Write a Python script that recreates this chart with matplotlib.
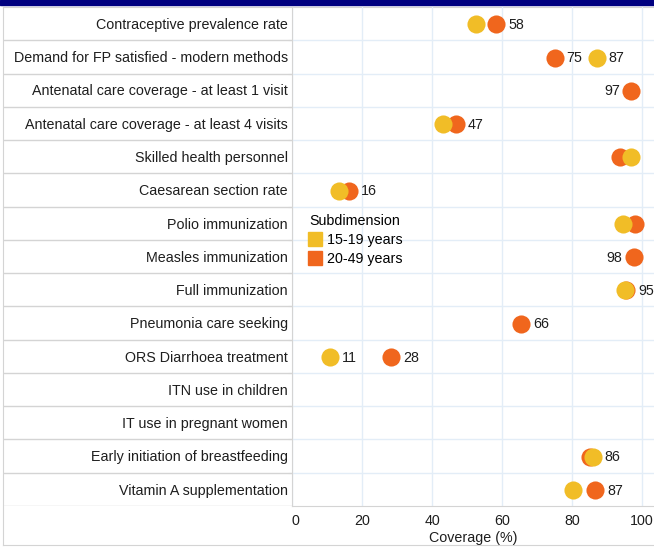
import numpy as np
import matplotlib
matplotlib.use("Agg")
import matplotlib.pyplot as plt
from matplotlib.lines import Line2D
from matplotlib.patches import Rectangle

plt.rcParams['font.family'] = ['Liberation Sans', 'DejaVu Sans']

indicators = [
    "Contraceptive prevalence rate",
    "Demand for FP satisfied - modern methods",
    "Antenatal care coverage - at least 1 visit",
    "Antenatal care coverage - at least 4 visits",
    "Skilled health personnel",
    "Caesarean section rate",
    "Polio immunization",
    "Measles immunization",
    "Full immunization",
    "Pneumonia care seeking",
    "ORS Diarrhoea treatment",
    "ITN use in children",
    "IT use in pregnant women",
    "Early initiation of breastfeeding",
    "Vitamin A supplementation",
]
# nan = no estimate
young = [52.6, 87.1, np.nan, 43.1, 96.7, 13.5, 94.5, np.nan, 95.0, np.nan, 10.9, np.nan, np.nan, 85.9, 80.3]
adult = [58.4, 75.0, 96.9, 46.9, 93.8, 16.4, 97.9, 97.6, 95.5, 65.5, 28.4, np.nan, np.nan, 85.0, 86.6]
young_lab = ["", "87", "", "", "", "", "", "", "", "", "11", "", "", "86", ""]
adult_lab = ["58", "75", "97", "47", "", "16", "", "98", "95", "66", "28", "", "", "", "87"]
left_lab = [False, False, True, False, False, False, False, True, False, False, False, False, False, False, False]

c_young = "#F1BD27"
c_adult = "#F0661D"
grey = "#d4d4d4"
grid_c = "#e3edf7"
txt = "#1e1e1e"
fs = 10.3

W, H = 654, 547
fig = plt.figure(figsize=(W / 100, H / 100), dpi=100)

def fx(px):
    return px / W

def fy(py):
    return 1 - py / H

# navy band on top
fig.patches.append(Rectangle((0, fy(5)), 1, 5 / H, transform=fig.transFigure,
                             color="#000080", zorder=0))

# outer frame
frame = fig.add_axes([fx(3), fy(545), fx(651), (545 - 7) / H])
frame.set_xticks([])
frame.set_yticks([])
for s in frame.spines.values():
    s.set_color(grey)
frame.spines['right'].set_visible(False)

n = len(indicators)
rows = np.arange(n)

# label column
lab_ax = fig.add_axes([fx(3), fy(506), fx(292 - 3), (506 - 7) / H])
lab_ax.set_xlim(0, 1)
lab_ax.set_ylim(n - 0.5, -0.5)
lab_ax.axis('off')
for k in range(n):
    lab_ax.axhline(k + 0.5, color=grey, lw=1)
    lab_ax.text(0.985, k + 0.04, indicators[k], ha='right', va='center', fontsize=fs, color=txt)

# plot area
ax = fig.add_axes([fx(292), fy(506), fx(W - 292), (506 - 7) / H])
ax.patch.set_alpha(0)
ax.set_xlim(0, 103.4)
ax.set_ylim(n - 0.5, -0.5)
ax.set_xticks([0, 20, 40, 60, 80, 100])
ax.set_yticks(np.arange(n - 1) + 0.5)
ax.set_yticklabels([])
ax.tick_params(axis='y', length=3, color=grey)
ax.tick_params(axis='x', length=0, pad=6, labelsize=fs, labelcolor=txt)
ax.xaxis.get_majorticklabels()[0].set_horizontalalignment('left')
ax.grid(True, color=grid_c, lw=1)
ax.set_axisbelow(True)
for s in ['top', 'right']:
    ax.spines[s].set_visible(False)
for s in ['left', 'bottom']:
    ax.spines[s].set_color(grey)
ax.set_xlabel("Coverage (%)", fontsize=fs, color=txt, labelpad=2)

ax.scatter(adult, rows + 0.02, s=170, color=c_adult, zorder=3, linewidths=0)
ax.scatter(young, rows + 0.02, s=170, color=c_young, zorder=4, linewidths=0)

for k in range(n):
    for v, lab in ((adult[k], adult_lab[k]), (young[k], young_lab[k])):
        if lab:
            if left_lab[k]:
                ax.annotate(lab, (v, k + 0.04), xytext=(-8, 0), textcoords='offset points',
                            ha='right', va='center', fontsize=fs, color=txt)
            else:
                ax.annotate(lab, (v, k + 0.04), xytext=(8.5, 0), textcoords='offset points',
                            ha='left', va='center', fontsize=fs, color=txt)

handles = [Line2D([], [], marker='s', ls='', color=c_young, markersize=10.5),
           Line2D([], [], marker='s', ls='', color=c_adult, markersize=10.5)]
ax.legend(handles, ["15-19 years", "20-49 years"], title="Subdimension",
          loc='upper left', bbox_to_anchor=(fx(309), fy(214)),
          bbox_transform=fig.transFigure, frameon=False, fontsize=fs,
          title_fontsize=fs, alignment='left', handlelength=0.9,
          handletextpad=0.35, labelspacing=0.35, borderpad=0, borderaxespad=0)

fig.savefig("out.png", dpi=100)
